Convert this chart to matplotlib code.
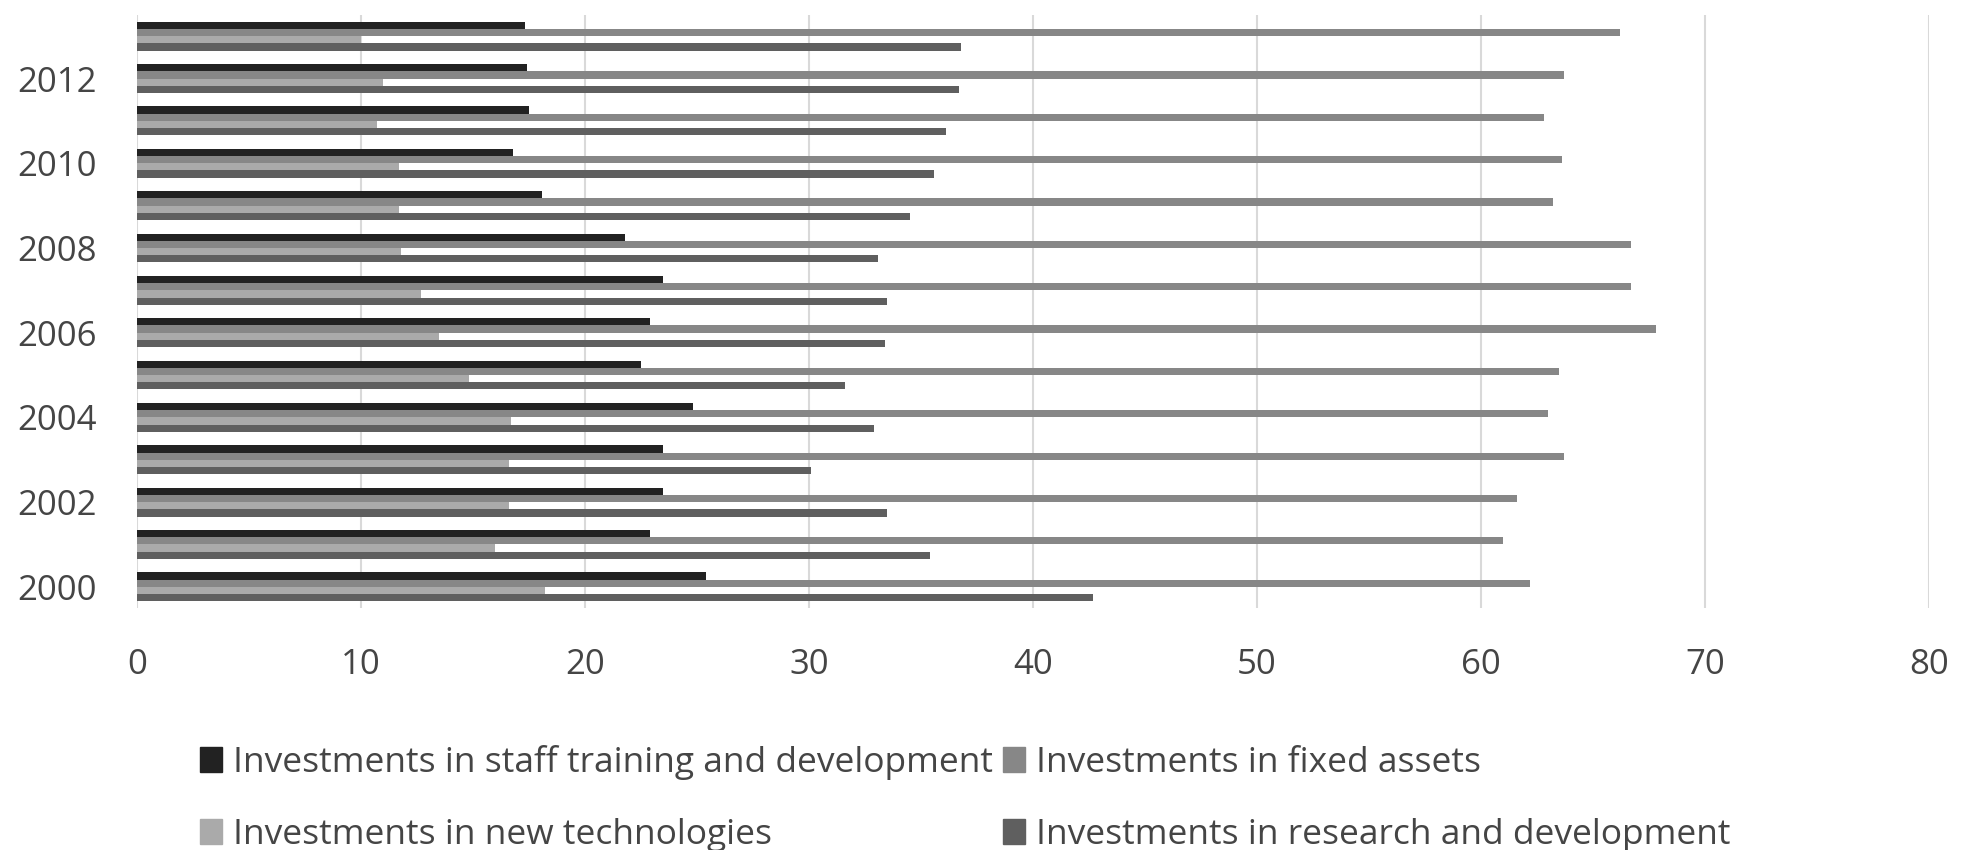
import numpy as np
import matplotlib.pyplot as plt
from matplotlib.patches import Patch

# годы и ряды
years = list(range(2000, 2014))
staff = [25.4, 22.9, 23.5, 23.5, 24.8, 22.5, 22.9, 23.5, 21.8, 18.1, 16.8, 17.5, 17.4, 17.3]
fixed_assets = [62.2, 61.0, 61.6, 63.7, 63.0, 63.5, 67.8, 66.7, 66.7, 63.2, 63.6, 62.8, 63.7, 66.2]
new_tech = [18.2, 16.0, 16.6, 16.6, 16.7, 14.8, 13.5, 12.7, 11.8, 11.7, 11.7, 10.7, 11.0, 10.0]
research = [42.7, 35.4, 33.5, 30.1, 32.9, 31.6, 33.4, 33.5, 33.1, 34.5, 35.6, 36.1, 36.7, 36.8]

labels = ["Investments in staff training and development",
          "Investments in fixed assets",
          "Investments in new technologies",
          "Investments in research and development"]
colors = ["#222222", "#878787", "#aaaaaa", "#5f5f5f"]
x_ticks = list(range(0, 90, 10))

plt.rcParams['font.family'] = ['Open Sans', 'DejaVu Sans']
text_color = "#454545"

fig = plt.figure(figsize=(19.71, 8.5), dpi=100)
ax = fig.add_axes([137 / 1971, 1 - 608 / 850, (1929 - 137) / 1971, (608 - 15) / 850])

y = np.arange(len(years))
h = 0.17
series = [staff, fixed_assets, new_tech, research]
offsets = [1.5 * h, 0.5 * h, -0.5 * h, -1.5 * h]
for vals, off, col, lab in zip(series, offsets, colors, labels):
    ax.barh(y + off, vals, height=h, color=col, label=lab, zorder=3)

ax.set_xlim(0, 80)
ax.set_ylim(-0.5, len(years) - 0.5)
ax.set_xticks(x_ticks)
ax.set_yticks(y[::2])
ax.set_yticklabels([str(v) for v in years[::2]])
ax.tick_params(axis='x', length=0, pad=29, labelsize=25, labelcolor=text_color)
ax.tick_params(axis='y', length=0, pad=29, labelsize=25, labelcolor=text_color)
ax.grid(axis='x', color="#d9d9d9", linewidth=1.5, zorder=0)
for s in ax.spines.values():
    s.set_visible(False)

# легенда: порядок по строкам как в Excel
hs = [Patch(color=c) for c in colors]
order = [0, 2, 1, 3]
fig.legend([hs[i] for i in order], [labels[i] for i in order],
           ncol=2, loc='lower left', bbox_to_anchor=(186 / 1971, -0.019),
           frameon=False, fontsize=25.5, labelcolor=text_color,
           handlelength=0.62, handleheight=0.7, handletextpad=0.3,
           columnspacing=0.3, labelspacing=1.08, borderaxespad=0)

fig.savefig("out.png", dpi=100)
